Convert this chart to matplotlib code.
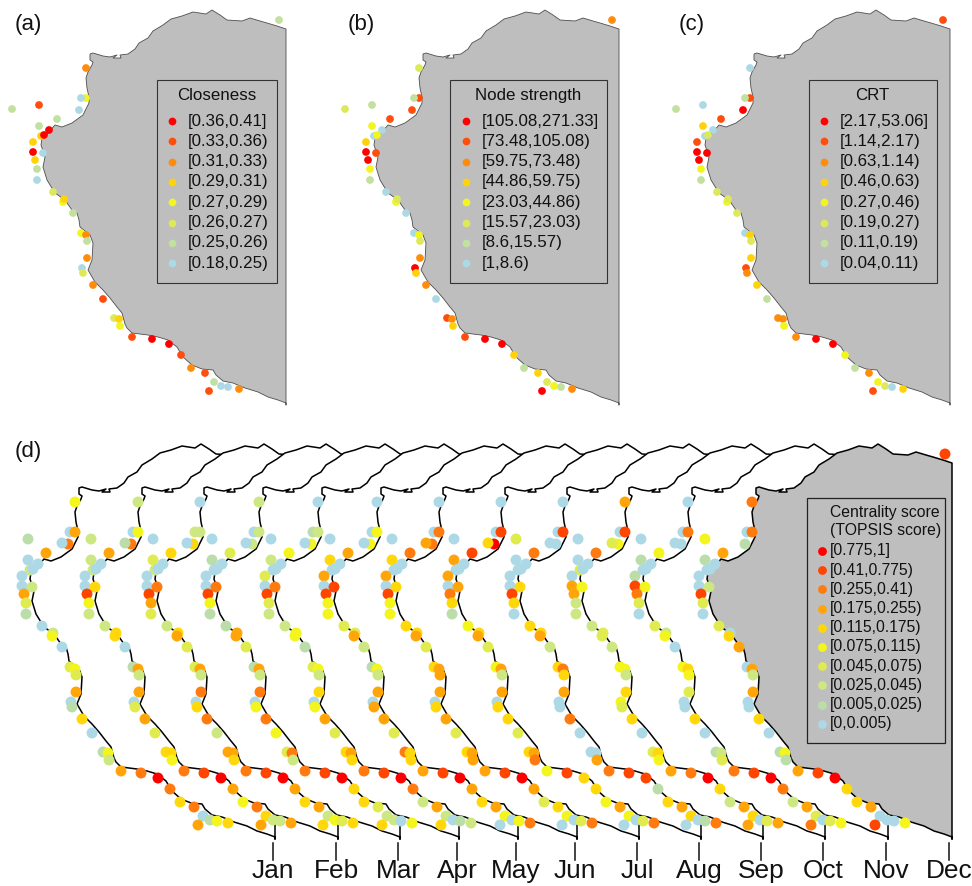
"""Coastal station centrality maps: three summary panels and a monthly strip."""

import matplotlib

matplotlib.use("Agg")
import matplotlib.pyplot as plt
from matplotlib.patches import Polygon, Rectangle

plt.rcParams["font.family"] = ["Liberation Sans", "DejaVu Sans"]

# coast outline, from the top right corner round to the bottom right
coast_x = [286, 277, 267, 260, 250, 242, 227, 220, 212, 206, 193, 182, 171, 163, 153, 148, 139,
           135, 128, 120, 121, 113, 117, 110, 103, 93, 90, 90, 93, 92, 88, 86, 87, 89, 89,
           83, 72, 62, 55, 48, 42, 41, 45, 43, 47, 55, 65, 72, 77, 79, 80, 85, 90, 93, 92,
           88, 95, 103, 110, 117, 122, 125, 127, 132, 148, 158, 168, 177, 183, 192, 202, 213,
           216, 223, 233, 245, 258, 268, 278, 286, 286]
coast_y = [29, 26, 23, 21, 18, 21, 20, 15, 10, 14, 12, 16, 19, 25, 31, 38, 43,
           49, 54, 55, 58, 58, 55, 57, 56, 53, 54, 60, 62, 65, 72, 78, 88, 97, 103,
           115, 123, 127, 125, 133, 138, 145, 157, 167, 180, 193, 200, 210, 213, 220, 227,
           231, 235, 243, 260, 270, 282, 290, 298, 307, 313, 324, 328, 333, 335, 337, 340, 347,
           357, 365, 369, 370, 375, 381, 383, 388, 392, 397, 400, 403, 405]

station_x = [279, 86, 81, 86, 79, 39, 12, 57, 39, 49, 44, 41, 33, 33, 43, 35, 37, 37, 53, 64, 63, 73,
             81, 86, 87, 87, 82, 83, 93, 103, 114, 119, 120, 132, 152, 169, 181, 191, 205, 214,
             221, 228, 239, 209]
station_y = [20, 68, 98, 98, 110, 105, 109, 119, 126, 130, 135, 136, 142, 152, 153, 160, 169, 180,
             192, 199, 202, 213, 233, 235, 241, 258, 268, 273, 285, 299, 318, 319, 326, 337, 339,
             344, 355, 368, 373, 382, 386, 387, 389, 391]

# class of each station, 0 is the top class
closeness_class = [6, 2, 7, 4, 7, 1, 6, 6, 6, 0, 0, 3, 3, 0, 7, 3, 6, 7, 5, 3, 4, 6,
                   4, 2, 6, 2, 7, 5, 2, 1, 5, 3, 4, 1, 0, 0, 1, 2, 1, 6, 7, 7, 2, 1]
strength_class = [2, 5, 6, 1, 1, 6, 5, 1, 4, 7, 4, 7, 3, 0, 1, 0, 4, 6, 7, 5, 4, 7,
                  7, 4, 5, 2, 0, 3, 2, 7, 1, 2, 3, 1, 0, 0, 3, 6, 3, 5, 4, 6, 2, 0]
crt_class = [1, 7, 6, 1, 0, 7, 6, 1, 3, 7, 5, 7, 1, 0, 0, 0, 4, 6, 5, 5, 4, 5,
             7, 3, 5, 3, 1, 2, 3, 6, 2, 2, 4, 2, 0, 0, 4, 6, 2, 4, 5, 7, 3, 1]

closeness_labels = ["[0.36,0.41]", "[0.33,0.36)", "[0.31,0.33)", "[0.29,0.31)",
                    "[0.27,0.29)", "[0.26,0.27)", "[0.25,0.26)", "[0.18,0.25)"]
strength_labels = ["[105.08,271.33]", "[73.48,105.08)", "[59.75,73.48)", "[44.86,59.75)",
                   "[23.03,44.86)", "[15.57,23.03)", "[8.6,15.57)", "[1,8.6)"]
crt_labels = ["[2.17,53.06]", "[1.14,2.17)", "[0.63,1.14)", "[0.46,0.63)",
              "[0.27,0.46)", "[0.19,0.27)", "[0.11,0.19)", "[0.04,0.11)"]
score_labels = ["[0.775,1]", "[0.41,0.775)", "[0.255,0.41)", "[0.175,0.255)", "[0.115,0.175)",
                "[0.075,0.115)", "[0.045,0.075)", "[0.025,0.045)", "[0.005,0.025)", "[0,0.005)"]

months = ["Jan", "Feb", "Mar", "Apr", "May", "Jun", "Jul", "Aug", "Sep", "Oct", "Nov", "Dec"]

# monthly TOPSIS class of each station, -1 where no dot shows
jan_class = [-1, 5, 9, 3, 2, 8, 9, 3, 9, 9, 9, 7, 9, 9, 7, 3, 6, 8, 9, 7, 5, 9,
             6, 5, 6, 3, 9, 8, 4, 9, 8, 5, 7, 3, 2, 0, 2, 4, 2, 9, 8, 5, 4, 3]
feb_class = [-1, 7, 9, 5, 2, 7, 8, 3, 7, 9, 9, 7, 9, 9, 4, 1, 5, 7, 7, 4, 4, 9,
             8, 3, 7, 3, 9, 6, 3, 6, 4, 4, 5, 2, 1, 0, 3, 5, 2, 4, 7, 7, 3, 3]
mar_class = [-1, 9, 7, 7, 4, 9, 9, 4, 6, 9, 9, 7, 9, 9, 2, 1, 3, 6, 7, 4, 3, 6,
             6, 3, 7, 2, 9, 4, 2, 7, 3, 3, 4, 2, 1, 0, 3, 4, 3, 7, 5, 6, 4, 4]
apr_class = [-1, 7, 9, 7, 7, 9, 9, 6, 8, 9, 9, 9, 9, 9, 2, 1, 5, 8, 8, 3, 3, 6,
             8, 3, 7, 2, 9, 5, 2, 5, 6, 2, 7, 2, 1, 0, 4, 4, 6, 7, 7, 9, 5, 4]
may_class = [-1, 9, 8, 7, 5, 9, 9, 5, 7, 9, 9, 9, 6, 9, 2, 1, 6, 7, 7, 5, 5, 8,
             6, 5, 7, 4, 9, 5, 3, 6, 4, 3, 4, 2, 1, 0, 2, 7, 3, 7, 9, 8, 7, 4]
jun_class = [-1, 9, 9, 5, 5, 9, 9, 3, 4, 9, 9, 9, 3, 9, 1, 1, 5, 5, 6, 6, 3, 7,
             8, 5, 7, 3, 9, 3, 3, 6, 2, 4, 4, 3, 1, 0, 3, 4, 3, 5, 9, 5, 2, 9]
jul_class = [-1, 9, 9, 2, 2, 9, 3, 2, 4, 9, 9, 9, 3, 9, 4, 1, 5, 5, 4, 4, 3, 6,
             4, 3, 3, 3, 9, 4, 3, 6, 4, 3, 3, 3, 1, 0, 3, 6, 4, 5, 9, 6, 2, 9]
aug_class = [-1, 9, 9, 1, 0, 9, 4, 1, 3, 9, 9, 9, 3, 9, 3, 2, 4, 8, 5, 4, 3, 6,
             5, 3, 7, 3, 9, 4, 4, 6, 4, 3, 2, 5, 1, 4, 4, 5, 3, 5, 9, 6, 2, 9]
sep_class = [-1, 9, 9, 1, 9, 6, 9, 2, 9, 9, 9, 9, 9, 9, 4, 1, 4, 9, 4, 4, 3, 7,
             4, 2, 4, 3, 9, 9, 2, 9, 9, 9, 3, 2, 1, 1, 8, 4, 3, 4, 9, 8, 2, 9]
oct_class = [-1, 3, 9, 1, 5, 9, 6, 2, 9, 9, 9, 6, 9, 3, 5, 3, 7, 7, 7, 6, 6, 7,
             5, 5, 7, 4, 5, 6, 4, 9, 6, 4, 5, 3, 2, 0, 4, 7, 3, 4, 9, 6, 3, 3]
nov_class = [-1, 9, 9, 2, 9, 9, 9, 5, 8, 9, 9, 9, 8, 1, 5, 2, 6, 9, 6, 7, 5, 9,
             5, 4, 5, 6, 9, 9, 4, 9, 8, 7, 6, 2, 1, 0, 2, 7, 3, 6, 9, 6, 5, 2]
dec_class = [1, 2, 9, 2, 8, 5, -1, 3, 8, 9, 9, 9, 9, 9, 7, 1, 6, 9, 6, 9, 4, 3,
             9, 3, 7, 3, 9, 9, 4, 9, 8, 5, 8, 3, 1, 0, 4, 4, 3, 9, 9, 9, 5, 1]
month_classes = [jan_class, feb_class, mar_class, apr_class, may_class, jun_class,
                 jul_class, aug_class, sep_class, oct_class, nov_class, dec_class]

COLORS_8 = ["#FF0000", "#FF4D0D", "#FF8C0A", "#FFD20A", "#F2F51E", "#DDE85A", "#C2E0A0", "#ADD8E6"]
COLORS_10 = ["#FF0000", "#FF4500", "#FF7A0F", "#FFA50A", "#FFD70A",
             "#F5F51E", "#E0EB50", "#CDE882", "#BBDDAA", "#ADD8E6"]
LAND = "#BEBEBE"

# horizontal shift of each monthly map and the page position of its tick
MONTH_SHIFT = [-11, 52, 114, 173, 232, 291, 353, 415, 477, 539, 602, 666]
MONTH_TICK = [273, 336, 398, 457, 516, 575, 637, 699, 761, 823, 886, 949]
MONTH_Y_SHIFT = 434
# the station at far left of panel (a) sits next to the coast in the monthly maps
STATION_6_MONTHLY = (73, 109)

# overlapping dots, later ones on top
MONTH_ORDER = list(range(10)) + [11, 10] + list(range(12, 44))
SUMMARY_ORDER = [0, 1, 3, 2] + list(range(4, 10)) + [11, 10] + list(range(12, 19)) \
    + [20, 19] + list(range(21, 44))


def coast_polygon(dx, dy, face, edge, lw, zorder):
    pts = [(x + dx, y + dy) for x, y in zip(coast_x, coast_y)]
    return Polygon(pts, closed=True, facecolor=face, edgecolor=edge, linewidth=lw,
                   joinstyle="round", zorder=zorder)


def draw_dots(ax, xs, ys, classes, colors, s, zorder, order):
    keep = [i for i in order if classes[i] >= 0]
    ax.scatter([xs[i] for i in keep], [ys[i] for i in keep],
               c=[colors[classes[i]] for i in keep], s=s, linewidths=0, zorder=zorder)


def summary_panel(ax, dx, tag, title, classes, labels, box, title_x, dot_x, text_x):
    ax.add_patch(coast_polygon(dx, 0, LAND, "#4d4d4d", 0.6, 2))
    xs = [x + dx for x in station_x]
    draw_dots(ax, xs, station_y, classes, COLORS_8, 31, 3, SUMMARY_ORDER)
    ax.text(dx + 15, 24, tag, fontsize=16, ha="left", va="center", color="#111111")
    ax.add_patch(Rectangle((box[0], 80), box[1] - box[0], 203, fill=False,
                           edgecolor="#333333", linewidth=0.8, zorder=4))
    ax.text(title_x, 95, title, fontsize=12.2, ha="center", va="center", color="#111111", zorder=5)
    for i, label in enumerate(labels):
        y = 121 + i * 20.3
        ax.scatter([dot_x], [y], c=COLORS_8[i], s=31, linewidths=0, zorder=5)
        ax.text(text_x, y, label, fontsize=12.2, ha="left", va="center", color="#111111", zorder=5)


def monthly_panel(ax):
    xs = list(station_x)
    ys = list(station_y)
    xs[6], ys[6] = STATION_6_MONTHLY
    for m, classes in enumerate(month_classes):
        shift = MONTH_SHIFT[m]
        face = LAND if m == len(months) - 1 else "white"
        z = 10 + 2 * m
        ax.add_patch(coast_polygon(shift, MONTH_Y_SHIFT, face, "black", 1.1, z))
        draw_dots(ax, [x + shift for x in xs], [y + MONTH_Y_SHIFT for y in ys],
                  classes, COLORS_10, 62, z + 1, MONTH_ORDER)
        ax.plot([MONTH_TICK[m], MONTH_TICK[m]], [843, 860], color="#111111", lw=1.1, zorder=50)
        ax.text(MONTH_TICK[m], 871, months[m], fontsize=18.9, ha="center", va="center",
                color="#111111", zorder=50)

    ax.text(15, 451, "(d)", fontsize=16, ha="left", va="center", color="#111111")
    ax.add_patch(Rectangle((807, 498), 138, 245, fill=False, edgecolor="#222222",
                           linewidth=0.9, zorder=40))
    ax.text(830, 512, "Centrality score", fontsize=11.3, ha="left", va="center",
            color="#111111", zorder=41)
    ax.text(830, 531, "(TOPSIS score)", fontsize=11.3, ha="left", va="center",
            color="#111111", zorder=41)
    for i, label in enumerate(score_labels):
        y = 551 + i * 19.2
        ax.scatter([822], [y], c=COLORS_10[i], s=40, linewidths=0, zorder=41)
        ax.text(830, y, label, fontsize=11.3, ha="left", va="center", color="#111111", zorder=41)


def main():
    fig = plt.figure(figsize=(9.72, 8.86), dpi=100)
    ax = fig.add_axes([0, 0, 1, 1])
    ax.set_xlim(0, 972)
    ax.set_ylim(886, 0)
    ax.axis("off")

    summary_panel(ax, 0, "(a)", "Closeness", closeness_class, closeness_labels,
                  (157, 277), 217, 172, 188)
    summary_panel(ax, 333, "(b)", "Node strength", strength_class, strength_labels,
                  (450, 607), 528, 466, 482)
    summary_panel(ax, 664, "(c)", "CRT", crt_class, crt_labels,
                  (809, 937), 872, 824, 840)
    monthly_panel(ax)

    fig.savefig("out.png", dpi=100)
    plt.close(fig)


if __name__ == "__main__":
    main()
